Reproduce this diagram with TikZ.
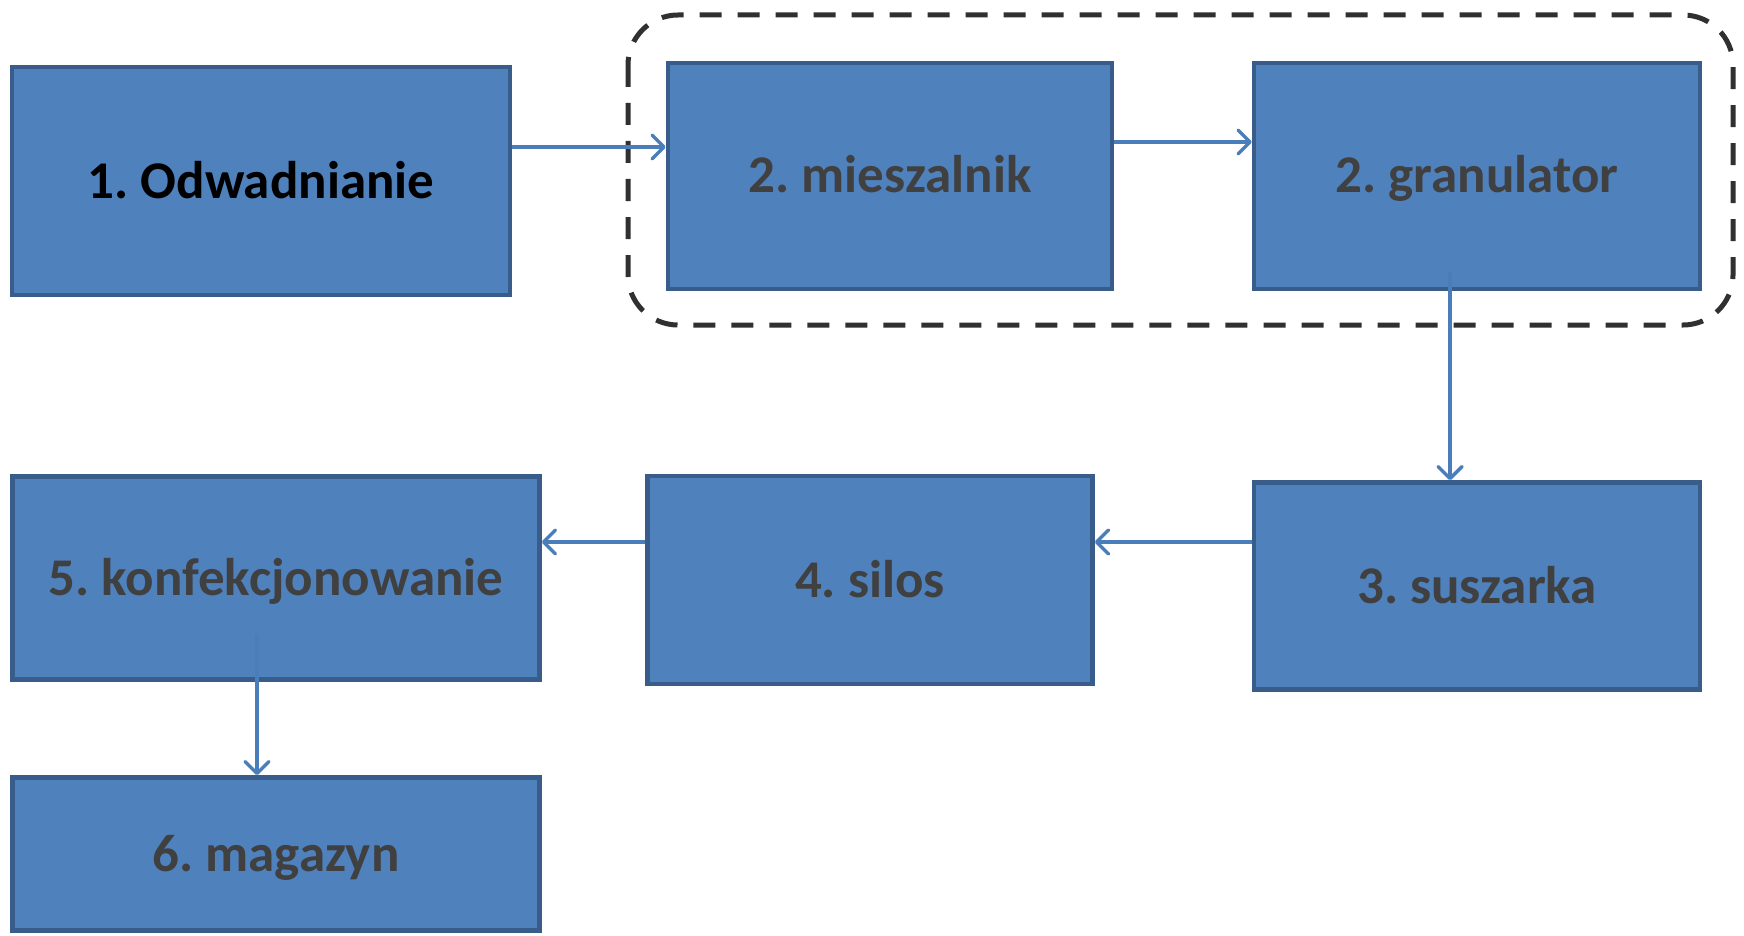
\documentclass[tikz,border=0pt]{standalone}
\usepackage{fontspec}
\setmainfont{Carlito}
\usepackage{tikz}
\usetikzlibrary{arrows.meta}
\frenchspacing

\definecolor{boxfill}{RGB}{79,129,189}
\definecolor{boxline}{RGB}{56,93,138}
\definecolor{flowline}{RGB}{74,126,187}
\definecolor{labelgray}{RGB}{64,64,64}
\definecolor{groupline}{RGB}{48,48,48}

\tikzset{
  stage/.style={draw=boxline, fill=boxfill, line width=4.5pt, rectangle,
    inner sep=0pt, text height=34pt, text depth=0pt, text=labelgray,
    font=\fontsize{53}{60}\selectfont\bfseries},
  flow/.style={draw=flowline, line width=3.5pt,
    -{Straight Barb[length=12pt,width=24pt,line width=3.5pt,round]}},
  group/.style={draw=groupline, line width=5pt, rounded corners=50pt,
    dash pattern=on 22pt off 16pt}
}

\begin{document}
\begin{tikzpicture}[x=1pt,y=1pt,yscale=-1,xscale=1]
\useasboundingbox (0,0) rectangle (1744,936);

%Dashed frame round mixer and granulator
\draw [group] (628,15) rectangle (1733,325);

% Stages
\node [stage, text=black, minimum width=498pt, minimum height=228pt] (odw) at (261,181) {1. Odwadnianie};
\node [stage, minimum width=444pt, minimum height=226pt] (mie) at (890,176) {2. mieszalnik};
\node [stage, minimum width=446pt, minimum height=226pt] (gra) at (1477,176) {2. granulator};
\node [stage, minimum width=446pt, minimum height=207pt] (sus) at (1477,586) {3. suszarka};
\node [stage, minimum width=445pt, minimum height=208pt] (sil) at (870,580) {4. silos};
\node [stage, minimum width=527pt, minimum height=203pt] (kon) at (276,578) {5. konfekcjonowanie};
\node [stage, minimum width=527pt, minimum height=153pt] (mag) at (276,854) {6. magazyn};

% Connectors
\draw [flow] ([yshift=-34pt]odw.east) -- ([yshift=-34pt]odw.east -| mie.west);
\draw [flow] ([yshift=-34pt]mie.east) -- ([yshift=-34pt]mie.east -| gra.west);
\draw [flow] ([xshift=-27pt,yshift=-19pt]gra.south) -- ([xshift=-27pt]gra.south |- sus.north);
\draw [flow] ([yshift=-44pt]sus.west) -- ([yshift=-44pt]sus.west -| sil.east);
\draw [flow] ([yshift=-38pt]sil.west) -- ([yshift=-38pt]sil.west -| kon.east);
\draw [flow] ([xshift=-19pt,yshift=-47pt]kon.south) -- ([xshift=-19pt]kon.south |- mag.north);

\end{tikzpicture}
\end{document}
